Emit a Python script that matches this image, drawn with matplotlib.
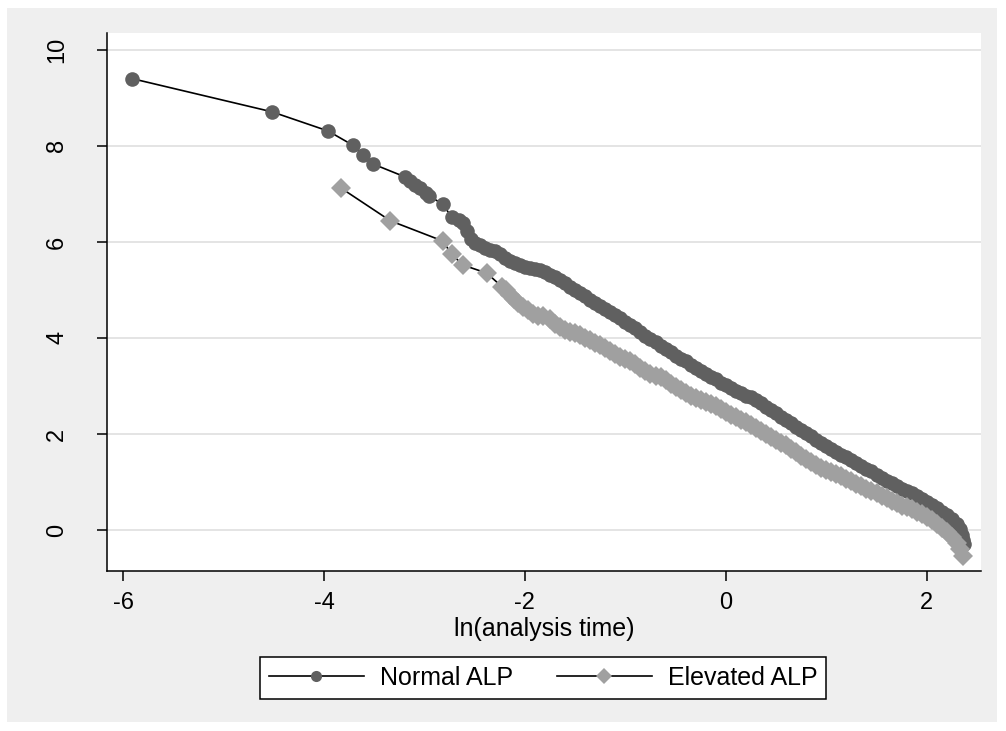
import matplotlib
matplotlib.use("Agg")
import matplotlib.pyplot as plt
from matplotlib.lines import Line2D
from matplotlib.patches import Rectangle

plt.rcParams['font.family'] = ['Liberation Sans', 'DejaVu Sans']

# -ln(-ln(survival)) vs ln(analysis time)
normal_x = [-5.91, -4.52, -3.96, -3.71, -3.61, -3.51, -3.19, -3.14, -3.09, -3.04, -2.98, -2.95,
            -2.82, -2.73, -2.66, -2.62, -2.58, -2.54,
            -2.50, -2.45, -2.40, -2.35, -2.30, -2.25, -2.20, -2.15, -2.10, -2.05,
            -2.00, -1.95, -1.90, -1.85, -1.80, -1.75, -1.70, -1.65, -1.60, -1.55,
            -1.50, -1.45, -1.40, -1.35, -1.30, -1.25, -1.20, -1.15, -1.10, -1.05,
            -1.00, -0.95, -0.90, -0.85, -0.80, -0.75, -0.70, -0.65, -0.60, -0.55,
            -0.50, -0.45, -0.40, -0.35, -0.30, -0.25, -0.20, -0.15, -0.10, -0.05,
            0.00, 0.05, 0.10, 0.15, 0.20, 0.25, 0.30, 0.35, 0.40, 0.45,
            0.50, 0.55, 0.60, 0.65, 0.70, 0.75, 0.80, 0.85, 0.90, 0.95,
            1.00, 1.05, 1.10, 1.15, 1.20, 1.25, 1.30, 1.35, 1.40, 1.45,
            1.50, 1.55, 1.60, 1.65, 1.70, 1.75, 1.80, 1.85, 1.90, 1.95,
            2.00, 2.05, 2.10, 2.15, 2.20, 2.25, 2.30, 2.33, 2.35, 2.36, 2.37]
normal_y = [9.40, 8.71, 8.31, 8.01, 7.81, 7.62, 7.35, 7.27, 7.19, 7.12, 7.02, 6.95,
            6.79, 6.52, 6.45, 6.40, 6.22, 6.06,
            5.98, 5.93, 5.88, 5.84, 5.80, 5.74, 5.66, 5.60, 5.56, 5.52,
            5.48, 5.46, 5.44, 5.42, 5.37, 5.31, 5.26, 5.21, 5.15, 5.07,
            5.00, 4.93, 4.87, 4.80, 4.73, 4.67, 4.61, 4.55, 4.48, 4.41,
            4.34, 4.27, 4.20, 4.13, 4.05, 3.98, 3.91, 3.84, 3.77, 3.70,
            3.63, 3.57, 3.51, 3.44, 3.37, 3.31, 3.25, 3.19, 3.14, 3.07,
            3.01, 2.95, 2.90, 2.85, 2.80, 2.76, 2.70, 2.64, 2.57, 2.50,
            2.43, 2.36, 2.29, 2.22, 2.15, 2.09, 2.03, 1.96, 1.88, 1.81,
            1.74, 1.68, 1.62, 1.57, 1.51, 1.46, 1.39, 1.33, 1.28, 1.22,
            1.15, 1.09, 1.03, 0.97, 0.91, 0.86, 0.81, 0.76, 0.70, 0.64,
            0.58, 0.52, 0.45, 0.38, 0.32, 0.23, 0.12, 0.02, -0.10, -0.20, -0.30]

elevated_x = [-3.83, -3.34, -2.82, -2.73, -2.62, -2.38,
              -2.23, -2.19, -2.15, -2.11, -2.07, -2.02, -1.97, -1.92, -1.87, -1.82,
              -1.75, -1.70, -1.65, -1.60, -1.55, -1.50, -1.45, -1.40, -1.35, -1.30,
              -1.25, -1.20, -1.15, -1.10, -1.05, -1.00, -0.95, -0.90, -0.85, -0.80,
              -0.75, -0.70, -0.65, -0.60, -0.55, -0.50, -0.45, -0.40, -0.35, -0.30,
              -0.25, -0.20, -0.15, -0.10, -0.05, 0.00, 0.05, 0.10, 0.15, 0.20,
              0.25, 0.30, 0.35, 0.40, 0.45, 0.50, 0.55, 0.60, 0.65, 0.70,
              0.75, 0.80, 0.85, 0.90, 0.95, 1.00, 1.05, 1.10, 1.15, 1.20,
              1.25, 1.30, 1.35, 1.40, 1.45, 1.50, 1.55, 1.60, 1.65, 1.70,
              1.75, 1.80, 1.85, 1.90, 1.95, 2.00, 2.05, 2.10, 2.15, 2.20,
              2.25, 2.30, 2.33, 2.36]
elevated_y = [7.12, 6.44, 6.02, 5.75, 5.52, 5.35,
              5.07, 4.99, 4.90, 4.82, 4.72, 4.64, 4.58, 4.50, 4.46, 4.45,
              4.40, 4.30, 4.22, 4.16, 4.13, 4.10, 4.06, 4.00, 3.95, 3.90,
              3.85, 3.79, 3.72, 3.66, 3.61, 3.56, 3.51, 3.45, 3.38, 3.31,
              3.25, 3.21, 3.18, 3.12, 3.05, 2.98, 2.92, 2.86, 2.80, 2.75,
              2.70, 2.67, 2.63, 2.58, 2.52, 2.46, 2.40, 2.35, 2.30, 2.24,
              2.18, 2.12, 2.06, 2.00, 1.94, 1.88, 1.82, 1.76, 1.69, 1.62,
              1.55, 1.48, 1.42, 1.36, 1.30, 1.25, 1.21, 1.16, 1.12, 1.07,
              1.02, 0.96, 0.91, 0.86, 0.81, 0.76, 0.71, 0.66, 0.61, 0.56,
              0.51, 0.47, 0.43, 0.38, 0.33, 0.27, 0.20, 0.12, 0.04, -0.05,
              -0.15, -0.28, -0.40, -0.55]

x_ticks = [-6, -4, -2, 0, 2]
y_ticks = [0, 2, 4, 6, 8, 10]
labels = ["Normal ALP", "Elevated ALP"]

dark = "#606060"
light = "#A0A0A0"

fig = plt.figure(figsize=(10.06, 7.31), dpi=100)
fig.patch.set_facecolor("white")
# light gray graph region, behind the axes
fig.patches.append(Rectangle((7 / 1006, 1 - 722 / 731), 990 / 1006, 714 / 731,
                             transform=fig.transFigure, facecolor="#EFEFEF",
                             edgecolor="none", zorder=-10))

ax = fig.add_axes([107 / 1006, 1 - 571 / 731, 874 / 1006, 538 / 731])
ax.set_facecolor("white")

ax.plot(normal_x, normal_y, color="black", lw=1.2, marker="o", ms=10.5,
        mfc=dark, mec=dark, mew=0, zorder=3)
ax.plot(elevated_x, elevated_y, color="black", lw=1.2, marker="D", ms=10,
        mfc=light, mec=light, mew=0, zorder=3)

ax.set_xlim(-6.16, 2.54)
ax.set_ylim(-0.854, 10.35)
ax.set_xticks(x_ticks)
ax.set_yticks(y_ticks)
ax.set_xticklabels([str(t) for t in x_ticks], fontsize=17)
ax.set_yticklabels([str(t) for t in y_ticks], fontsize=17, rotation=90, va="center")
ax.tick_params(axis="x", direction="out", length=7, width=1.1, pad=8)
ax.tick_params(axis="y", direction="out", length=7, width=1.1, pad=21)
ax.grid(axis="y", color="#E4E4E4", lw=1.4, zorder=0)
ax.set_axisbelow(True)
for s in ["top", "right"]:
    ax.spines[s].set_visible(False)
ax.spines["left"].set_linewidth(1.1)
ax.spines["bottom"].set_linewidth(1.1)

ax.set_xlabel("ln(analysis time)", fontsize=18, labelpad=2)

handles = [Line2D([], [], color="black", lw=1.2, marker="o", ms=8, mfc=dark, mec=dark, mew=0),
           Line2D([], [], color="black", lw=1.2, marker="D", ms=8, mfc=light, mec=light, mew=0)]
leg = fig.legend(handles, labels, loc="center", bbox_to_anchor=(543 / 1006, 1 - 678 / 731),
                 ncol=2, fontsize=18, frameon=True, fancybox=False, shadow=False,
                 handlelength=3.8, handletextpad=0.65, columnspacing=1.75,
                 borderpad=0.35, borderaxespad=0, edgecolor="black", facecolor="white",
                 framealpha=1)
leg.get_frame().set_linewidth(1.1)

fig.savefig("out.png", dpi=100, facecolor=fig.get_facecolor())
